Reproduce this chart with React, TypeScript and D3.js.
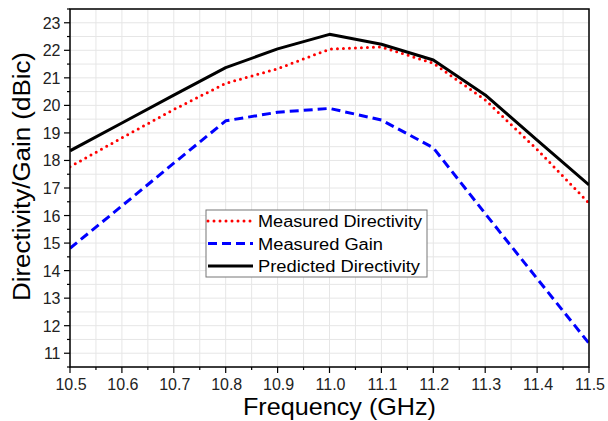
import React from "react";
import * as d3 from "d3";

const frequencies = [10.5, 10.6, 10.7, 10.8, 10.9, 11.0, 11.1, 11.2, 11.3, 11.4, 11.5];
const measuredDirectivity = [17.77, 18.82, 19.85, 20.8, 21.33, 22.04, 22.12, 21.53, 20.2, 18.4, 16.45];
const measuredGain = [14.81, 16.35, 17.9, 19.44, 19.75, 19.89, 19.47, 18.46, 16.07, 13.71, 11.36];
const predictedDirectivity = [18.35, 19.36, 20.37, 21.37, 22.05, 22.58, 22.22, 21.65, 20.38, 18.74, 17.11];
const xTicks = [10.5, 10.6, 10.7, 10.8, 10.9, 11.0, 11.1, 11.2, 11.3, 11.4, 11.5];
const yTicks = [11, 12, 13, 14, 15, 16, 17, 18, 19, 20, 21, 22, 23];
const seriesNames = ["Measured Directivity", "Measured Gain", "Predicted Directivity"];

const W = 608, H = 421;
const L = 70, R = 589, T = 9, B = 367;

export default function App() {
  const x = d3.scaleLinear().domain([10.5, 11.5]).range([L, R]);
  const y = d3.scaleLinear().domain([10.5, 23.5]).range([B, T]);
  const line = d3.line<[number, number]>().x(d => x(d[0])).y(d => y(d[1]));
  const mk = (vals: number[]) => line(frequencies.map((f, i) => [f, vals[i]] as [number, number])) || "";

  const xMinor = d3.range(0, 21).map(i => 10.5 + i * 0.05);
  const yMinor = d3.range(0, 27).map(i => 10.5 + i * 0.5);

  const styles = [
    { color: "#ff0000", dash: "0 6", cap: "round" as const, width: 3 },
    { color: "#0000ff", dash: "9 5", cap: "butt" as const, width: 3 },
    { color: "#000000", dash: "", cap: "butt" as const, width: 3 },
  ];
  const legendLengths = [164, 125, 162];
  const data = [measuredDirectivity, measuredGain, predictedDirectivity];
  const font = "Liberation Sans, Arial, sans-serif";

  return (
    <svg width={W} height={H} style={{ position: "absolute", left: 0, top: 0, background: "#fff" }} fontFamily={font}>
      <defs>
        <clipPath id="plot"><rect x={L} y={T} width={R - L} height={B - T} /></clipPath>
      </defs>
      {xMinor.map((v, i) => (
        <line key={"gx" + i} x1={x(v)} x2={x(v)} y1={T} y2={B} stroke="#e6e6e6" strokeWidth={1} />
      ))}
      {yMinor.map((v, i) => (
        <line key={"gy" + i} x1={L} x2={R} y1={y(v)} y2={y(v)} stroke="#e6e6e6" strokeWidth={1} />
      ))}
      <g clipPath="url(#plot)">
        {data.map((vals, i) => (
          <path key={"s" + i} d={mk(vals)} fill="none" stroke={styles[i].color} strokeWidth={styles[i].width}
            strokeDasharray={styles[i].dash || undefined} strokeLinecap={styles[i].cap} strokeLinejoin="round" />
        ))}
      </g>
      <rect x={L} y={T} width={R - L} height={B - T} fill="none" stroke="#000" strokeWidth={1.5} />
      {xMinor.map((v, i) => {
        const major = i % 2 === 0;
        return <line key={"xt" + i} x1={x(v)} x2={x(v)} y1={B} y2={B + (major ? 6 : 3)} stroke="#000" strokeWidth={1.2} />;
      })}
      {xTicks.map((v, i) => (
        <text key={"xl" + i} x={x(v) + 1} y={389.5} textAnchor="middle" fontSize={16} fill="#222">{v.toFixed(1)}</text>
      ))}
      {yMinor.map((v, i) => {
        const major = Number.isInteger(v);
        return <line key={"yt" + i} x1={L} x2={L - (major ? 6 : 3)} y1={y(v)} y2={y(v)} stroke="#000" strokeWidth={1.2} />;
      })}
      {yTicks.map((v, i) => (
        <text key={"yl" + i} x={60.5} y={y(v) + 6} textAnchor="end" fontSize={16} fill="#222">{v}</text>
      ))}
      <text x={243} y={415} fontSize={24} fill="#000" textLength={193} lengthAdjust="spacingAndGlyphs">Frequency (GHz)</text>
      <text transform={`translate(29.5, 301) rotate(-90)`} fontSize={23} fill="#000" textLength={249} lengthAdjust="spacingAndGlyphs">Directivity/Gain (dBic)</text>
      <rect x={206} y={210} width={221} height={67} fill="#fff" stroke="#777" strokeWidth={1} />
      {seriesNames.map((name, i) => {
        const cy = 221 + i * 22.5;
        return (
          <g key={"lg" + i}>
            <line x1={208} x2={253} y1={cy} y2={cy} stroke={styles[i].color} strokeWidth={styles[i].width}
              strokeDasharray={styles[i].dash || undefined} strokeLinecap={styles[i].cap} />
            <text x={258} y={cy + 6} fontSize={16} fill="#000" textLength={legendLengths[i]} lengthAdjust="spacingAndGlyphs">{name}</text>
          </g>
        );
      })}
    </svg>
  );
}
